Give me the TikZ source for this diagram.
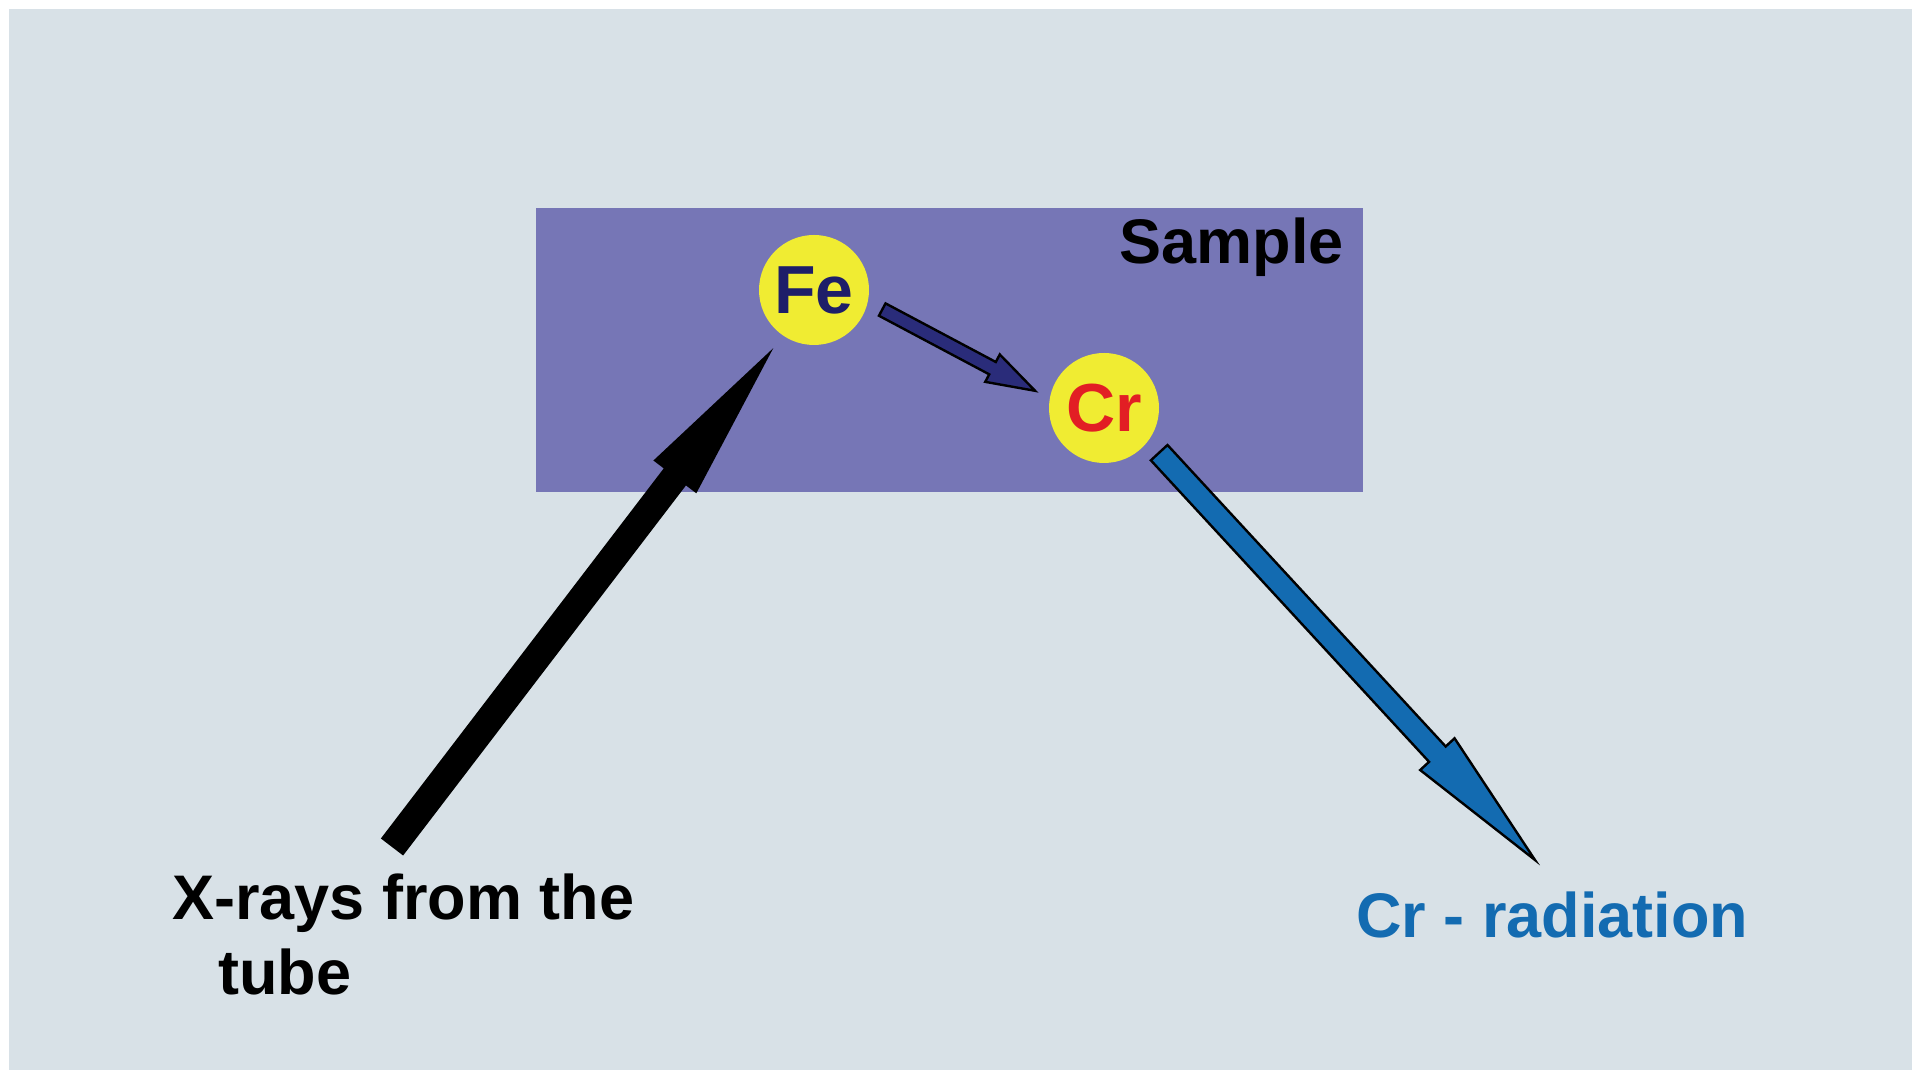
\documentclass[tikz,border=0pt]{standalone}
\usepackage{fontspec}
\setmainfont{Liberation Sans}
\usetikzlibrary{calc}

\definecolor{bgblue}{RGB}{216,225,231}
\definecolor{samplecol}{RGB}{118,118,182}
\definecolor{atomyellow}{RGB}{240,236,50}
\definecolor{fenavy}{RGB}{30,30,105}
\definecolor{crred}{RGB}{226,30,36}
\definecolor{arrownavy}{RGB}{42,44,122}
\definecolor{crblue}{RGB}{19,107,177}

% wide arrow as a closed outline: shaft half width, head half width, head length
\tikzset{
  blockarrow/.style n args={3}{to path={
    let \p1=(\tikztostart), \p2=(\tikztotarget),
        \n1={atan2(\y2-\y1,\x2-\x1)}, \n2={veclen(\x2-\x1,\y2-\y1)-#3} in
    ($(\p1)+(\n1+90:#1)$) -- ($(\p1)+(\n1:\n2)+(\n1+90:#1)$)
    -- ($(\p1)+(\n1:\n2)+(\n1+90:#2)$) -- (\p2)
    -- ($(\p1)+(\n1:\n2)+(\n1-90:#2)$) -- ($(\p1)+(\n1:\n2)+(\n1-90:#1)$)
    -- ($(\p1)+(\n1-90:#1)$) -- cycle}},
}

\begin{document}
\begin{tikzpicture}[x=0.5pt,y=0.5pt,
    atom/.style={circle,fill=atomyellow,minimum size=55pt,inner sep=0pt,outer sep=8pt,
      font=\fontsize{34}{40}\selectfont\bfseries},
    bigtext/.style={inner sep=0pt,font=\fontsize{31.5}{37.5}\selectfont\bfseries},
    outlined/.style={draw=black,line width=1.2pt,line join=miter}]
    \useasboundingbox (0,0) rectangle (1912,1070);
    \fill [bgblue] (9,0) rectangle (1912,1061);
    \fill [samplecol] (536,578) rectangle (1363,862);
    \node [bigtext,anchor=base east] (sample) at (1344,806) {Sample};

    \node [atom,text=fenavy] (fe) at (814,780) {Fe};
    \node [atom,text=crred] (cr) at (1104,662) {Cr};

    \coordinate (tube) at (392,223);
    \coordinate (crout) at (1535,210);

    \fill [black] (tube) to [blockarrow={7pt}{13.5pt}{81pt}] (fe.-125);
    \filldraw [outlined,fill=arrownavy] (fe.-16.5) to [blockarrow={3.5pt}{7.75pt}{24pt}] (cr.166.4);
    \filldraw [outlined,fill=crblue] (cr.-39.8) to [blockarrow={5.65pt}{11.7pt}{72pt}] (crout);

    % base of a two line node is the baseline of its last line
    \node [bigtext,anchor=base west,align=left] (xrays) at (172,75) {X-rays from the\\\hspace*{23pt}tube};
    \node [bigtext,anchor=base west,text=crblue] (crrad) at (1356,132) {Cr - radiation};
\end{tikzpicture}
\end{document}
